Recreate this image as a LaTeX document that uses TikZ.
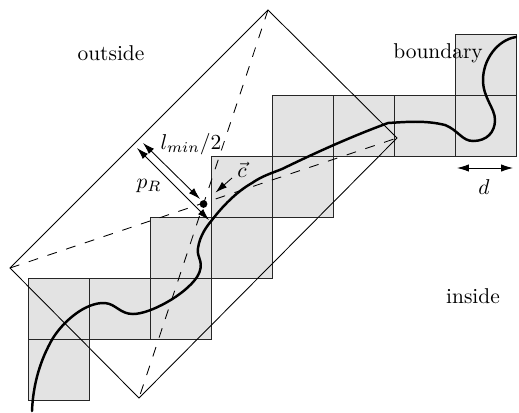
\documentclass[tikz,border=0pt]{standalone}
\usetikzlibrary{arrows.meta}
\tikzset{
  cell/.style={draw=black!85,fill=black!11,line width=0.45pt},
  frame/.style={draw=black,line width=0.4pt},
  diag/.style={draw=black,line width=0.4pt,dash pattern=on 4.6pt off 4.6pt},
  curve/.style={draw=black,line width=1.15pt,line cap=round},
  dim/.style={draw=black,line width=0.4pt,{Latex[length=5.5pt,width=3.4pt]}-{Latex[length=5.5pt,width=3.4pt]}},
  lbl/.style={inner sep=0pt,font=\fontsize{10}{12}\selectfont}
}
\begin{document}
\begin{tikzpicture}[x=0.4663pt,y=-0.4663pt]
\useasboundingbox (0,0) rectangle (519,412);
% cells
\foreach \x/\y in {455/34,272/95,333/95,394/95,455/95,211/156,272/156,150/217,211/217,28.5/278,89.5/278,150/278,28.5/339}
  \path[cell] (\x,\y) rectangle +(61,61);
% rectangle
\coordinate (A) at (268,10);
\coordinate (B) at (397,138);
\coordinate (C) at (139,398);
\coordinate (D) at (10,268);
\draw[frame] (A) -- (B) -- (C) -- (D) -- cycle;
\draw[diag] (A) -- (C);
\draw[diag] (D) -- (B);
% curve
\draw[curve] (32,411)
  .. controls (33,385) and (40,360) .. (53,338)
  .. controls (63,322) and (85,302) .. (105,303)
  .. controls (116,304) and (120,314) .. (133,314)
  .. controls (150,314) and (185,295) .. (197,277)
  .. controls (206,262) and (196,258) .. (198,248)
  .. controls (200,235) and (207,226) .. (212,220)
  .. controls (222,207) and (236,192) .. (252,183)
  .. controls (262,176) and (272,173) .. (282,169)
  .. controls (315,153) and (350,137) .. (388,123)
  .. controls (405,122) and (425,120) .. (445,125)
  .. controls (458,130) and (462,141) .. (473,141)
  .. controls (487,141) and (495,132) .. (495,120)
  .. controls (495,108) and (483,98) .. (483,80)
  .. controls (483,60) and (497,40) .. (516,37);
% centre point
\node[circle,fill=black,inner sep=0pt,minimum size=3.6pt] (P) at (203.5,204) {};
% dimension arrows
\coordinate (l1) at (143,143);
\coordinate (l2) at (200,199);
\coordinate (p1) at (137,148);
\coordinate (p2) at (209,220);
\coordinate (c1) at (232,178);
\coordinate (c2) at (215.5,192.5);
\coordinate (d1) at (457,168);
\coordinate (d2) at (513,168);
\draw[dim] (l1) -- (l2);
\draw[dim] (p1) -- (p2);
\draw[draw=black,line width=0.4pt,-{Latex[length=5.5pt,width=3.4pt]}] (c1) -- (c2);
\draw[dim] (d1) -- (d2);
% labels
\node[lbl] (tout) at (111,53) {outside};
\node[lbl] (tbnd) at (438,53) {boundary};
\node[lbl] (tins) at (473,296) {inside};
\node[lbl] (tl) at (191,144) {$l_{min}/2$};
\node[lbl] (tp) at (149,186) {$p_R$};
\node[lbl] (tc) at (242,170) {$\vec{c}$};
\node[lbl] (td) at (484,187) {$d$};
\end{tikzpicture}
\end{document}
